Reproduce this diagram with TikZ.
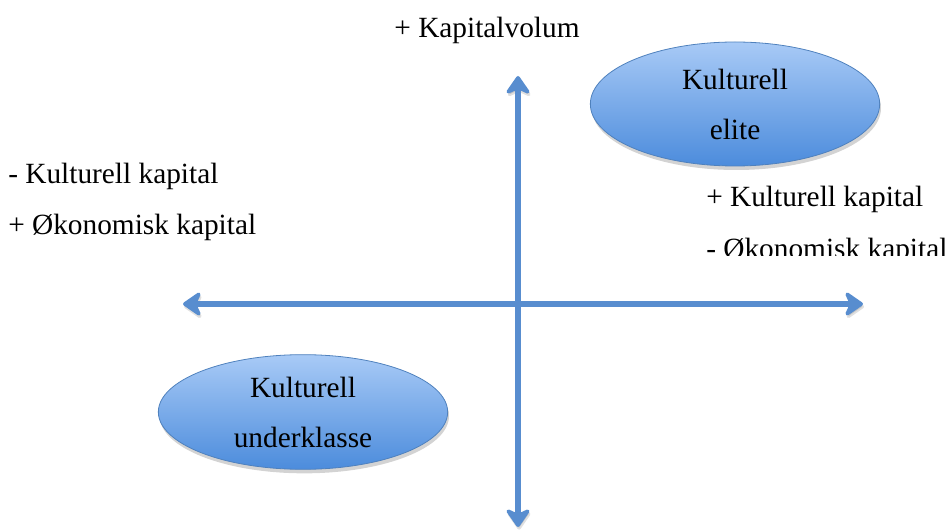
\documentclass[tikz,border=0pt]{standalone}
\usepackage{fontspec}
\setmainfont{Liberation Serif}
\usetikzlibrary{arrows.meta,shapes.geometric,shadows}

\definecolor{axisblue}{RGB}{88,141,207}
\definecolor{rimblue}{RGB}{79,129,189}
\definecolor{topblue}{RGB}{168,202,246}
\definecolor{botblue}{RGB}{76,140,220}

\begin{document}
\begin{tikzpicture}[x=0.75pt, y=-0.75pt,
  axis/.style={line width=3.8pt, draw=axisblue, -{Stealth[length=16pt, width=22pt, inset=5pt, round]},
    preaction={draw=black, opacity=0.12, transform canvas={xshift=0.8pt, yshift=-2pt}}},
  blob/.style={ellipse, draw=rimblue, line width=0.6pt, top color=topblue, bottom color=botblue,
    minimum width=217pt, inner sep=0pt, align=center,
    font=\fontsize{22}{37.5}\selectfont,
    drop shadow={shadow xshift=1pt, shadow yshift=-3pt, opacity=0.35}},
  lbl/.style={inner sep=0pt, font=\fontsize{22}{25}\selectfont}]
\useasboundingbox (0,0) rectangle (949,530);

\coordinate (c) at (518,304);
\coordinate (n) at (518,76);
\coordinate (s) at (518,527);
\coordinate (w) at (183,304);
\coordinate (o) at (863,304);

\draw[axis] (c) -- (n);
\draw[axis] (c) -- (s);
\draw[axis] (c) -- (w);
\draw[axis] (c) -- (o);

\node [blob, minimum height=93pt] (e1) at (735,104) {Kulturell\\elite};
\node [blob, minimum height=86pt] (e2) at (303,412) {Kulturell\\underklasse};

\node [lbl, anchor=base] (t1) at (487,38) {+ Kapitalvolum};
\node [lbl, anchor=base west] (t2) at (8,184) {- Kulturell kapital};
\node [lbl, anchor=base west] (t3) at (8,235) {+ Økonomisk kapital};
\node [lbl, anchor=base west] (t4) at (706,207) {+ Kulturell kapital};
\begin{scope}
\clip (690,230) rectangle (949,256);
\node [lbl, anchor=base west] (t5) at (706,259) {- Økonomisk kapital};
\end{scope}
\end{tikzpicture}
\end{document}
